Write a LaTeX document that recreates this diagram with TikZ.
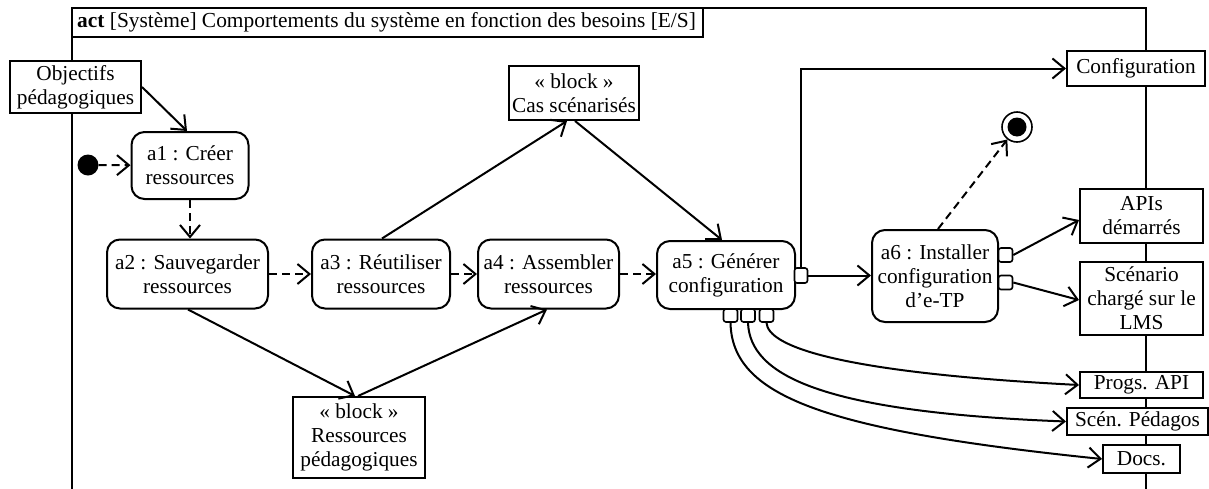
\documentclass[tikz,border=0pt]{standalone}
\usepackage{fontspec}
\setmainfont{Liberation Serif}
\usetikzlibrary{arrows.meta}
\begin{document}
\begin{tikzpicture}[x=1pt,y=-1pt,
  every node/.style={font=\fontsize{21.3}{24}\selectfont, align=center, inner sep=0pt},
  lw/.style={line width=2pt},
  act/.style={lw, draw, fill=white, rounded corners=13pt},
  obj/.style={lw, draw, fill=white},
  port/.style={line width=1.6pt, draw, fill=white, rounded corners=2.5pt},
  flow/.style={lw, -{Straight Barb[length=12pt,width=20pt]}},
  ctrl/.style={flow, dash pattern=on 8pt off 5pt}]
\useasboundingbox (0,0) rectangle (1209,488);
% frame
\draw[lw] (72,495) -- (72,8) -- (1146,8) -- (1146,495);
\draw[lw] (72,37) -- (703,37) -- (703,8);
\node[anchor=west] (title) at (77,22.5) {\fontsize{21.4}{24}\selectfont\textbf{act} [Système] Comportements du système en fonction des besoins [E/S]};
% nodes
\node[obj, minimum width=131, minimum height=52] (obj) at (75.5,87) {Objectifs\\pédagogiques};
\node[circle, fill, minimum size=21] (init) at (88,165) {};
\node[act, minimum width=117, minimum height=67] (a1) at (190,165.5) {a1 : Créer\\ressources};
\node[act, minimum width=161, minimum height=69] (a2) at (187.5,274) {a2 : Sauvegarder\\ressources};
\node[act, minimum width=138, minimum height=69] (a3) at (381,274) {a3 : Réutiliser\\ressources};
\node[act, minimum width=141, minimum height=69] (a4) at (548.5,274) {a4 : Assembler\\ressources};
\node[act, minimum width=138, minimum height=68] (a5) at (726,275) {a5 : Générer\\configuration};
\node[act, minimum width=126, minimum height=92] (a6) at (935,276) {a6 : Installer\\configuration\\d’e-TP};
\node[obj, minimum width=130, minimum height=54] (cas) at (574,93) {« block »\\Cas scénarisés};
\node[obj, minimum width=132, minimum height=81] (res) at (359,437.5) {« block »\\Ressources\\pédagogiques};
\node[obj, minimum width=138, minimum height=35] (conf) at (1136,68.5) {Configuration};
\node[obj, minimum width=123, minimum height=54] (apis) at (1141.5,216) {APIs\\démarrés};
\node[obj, minimum width=123, minimum height=73] (scen) at (1141.5,298.5) {Scénario\\chargé sur le\\LMS};
\node[obj, minimum width=123, minimum height=26] (progs) at (1141.5,385) {Progs. API};
\node[obj, minimum width=141, minimum height=27] (sped) at (1137.5,421.5) {Scén. Pédagos};
\node[obj, minimum width=77, minimum height=28] (docs) at (1141.5,459) {Docs.};
\node[circle, line width=1.6pt, draw, fill=white, minimum size=30] (final) at (1017,127) {};
\node[circle, fill, minimum size=19] (finaldot) at (1017,127) {};
% ports
\node[port, minimum width=13, minimum height=15] (a5p) at (801,275.5) {};
\node[port, minimum width=14, minimum height=13] (b1) at (730.5,315.5) {};
\node[port, minimum width=14, minimum height=13] (b2) at (748,315.5) {};
\node[port, minimum width=14, minimum height=13] (b3) at (766.5,315.5) {};
\node[port, minimum width=14, minimum height=14] (a6p1) at (1005.5,255) {};
\node[port, minimum width=14, minimum height=14] (a6p2) at (1005.5,282.5) {};
% connectors
\draw[flow] (obj.east) -- ([xshift=-3pt]a1.north);
\draw[ctrl] (init) -- (a1);
\draw[ctrl] (a1.south) -- (a1.south |- a2.north);
\draw[ctrl] (a2) -- (a3);
\draw[ctrl] (a3) -- (a4);
\draw[ctrl] (a4.east) -- (a4.east -| a5.west);
\draw[flow] ([xshift=1pt]a3.north) -- ([xshift=-7pt]cas.south);
\draw[flow] ([xshift=1pt]cas.south) -- ([xshift=-4pt]a5.north);
\draw[flow] ([xshift=0.5pt]a2.south) -- ([xshift=-4pt]res.north);
\draw[flow] ([xshift=-1pt]res.north) -- ([xshift=-1.5pt]a4.south);
\draw[flow] (a5p.north) |- (conf.west);
\draw[flow] (a5p.east) -- (a5p.east -| a6.west);
\draw[ctrl] ([xshift=3pt]a6.north) -- (final);
\draw[flow] (a6p1.east) -- ([yshift=-4pt]apis.west);
\draw[flow] (a6p2.east) -- ([yshift=-1.5pt]scen.west);
\draw[flow] (b3.south) .. controls (768,345) and (830,372) .. (progs.west);
\draw[flow] (b2.south) .. controls (750,375) and (820,412) .. (sped.west);
\draw[flow] (b1.south) .. controls (732,395) and (820,430) .. (docs.west);
\end{tikzpicture}
\end{document}
